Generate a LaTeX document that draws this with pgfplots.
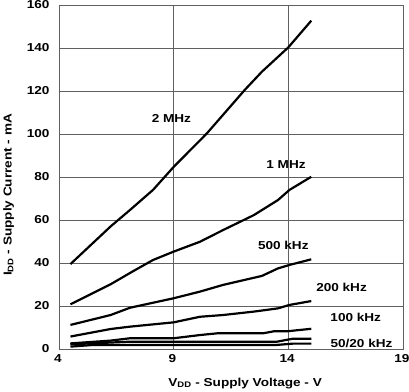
\documentclass[border=0pt]{standalone}
\usepackage{fontspec}
\setmainfont{Liberation Sans}[FakeStretch=1.18]
\usepackage{pgfplots}
\pgfplotsset{compat=1.18}
\newcommand{\ff}{\fontsize{11.5}{13}\selectfont\bfseries}
\tikzset{curve/.style={black, solid, line width=2.2pt, mark=none, line join=round}}
\begin{document}
\begin{tikzpicture}
\useasboundingbox (-59pt,-42pt) rectangle (350pt,349pt);
\begin{axis}[
  at={(0,0)}, anchor=south west,
  scale only axis, width=344pt, height=344pt,
  xmin=4, xmax=19, ymin=0, ymax=160,
  xtick={4,9,14,19}, ytick={0,20,...,160},
  grid=major,
  major grid style={gray!75!black, line width=0.6pt},
  axis line style={gray!75!black, line width=0.6pt},
  major tick length=0pt,
  /pgf/number format/assume math mode=true,
  tick label style={font=\ff},
  yticklabel style={xshift=-6pt},
  xticklabel style={yshift=-2pt, xshift=-1.2pt},
  xlabel={V\textsubscript{DD} - Supply Voltage - V},
  ylabel={I\textsubscript{DD} - Supply Current - mA},
  label style={font=\ff},
  xlabel style={at={(axis description cs:0.541,-0.1076)}, anchor=base},
  ylabel style={at={(axis description cs:-0.138,0.448)}, anchor=base, rotate=0},
]
% 2 MHz
\addplot[curve] coordinates {(4.5,39.5) (6.25,57) (7.1,64.7) (8.1,74) (9,84.7) (10.45,100.3) (12.1,120.5) (12.85,129) (14,140.3) (15,152.7)};
% 1 MHz
\addplot[curve] coordinates {(4.5,20.8) (6.25,30.1) (7.2,36) (8.1,41.4) (9,45.3) (10.15,49.9) (11.15,55.3) (12.5,62.3) (13.55,69.3) (14.05,74) (15,80.1)};
% 500 kHz
\addplot[curve] coordinates {(4.5,11.2) (6.25,15.8) (7.1,19.2) (9,23.6) (10.15,26.7) (11.15,29.8) (12.85,34) (13.55,37.5) (14.05,39.1) (15,41.7)};
% 200 kHz
\addplot[curve] coordinates {(4.5,5.8) (6.25,9.3) (7.1,10.4) (9,12.4) (10.15,15) (11.15,15.8) (12.5,17.4) (13.55,18.9) (14.05,20.5) (15,22.3)};
% 100 kHz
\addplot[curve] coordinates {(4.5,2.6) (6.25,3.9) (7.1,5) (9,5) (10.15,6.5) (10.9,7.3) (12.9,7.3) (13.4,8.3) (14,8.3) (15,9.4)};
% 50 kHz
\addplot[curve] coordinates {(4.5,2.2) (7.1,3.4) (13.5,3.4) (14.2,4.8) (15,4.8)};
% 20 kHz
\addplot[curve] coordinates {(4.5,1.1) (5.5,1.9) (13.5,1.9) (14.2,2.5) (15,2.5)};
\node[font=\ff] at (axis cs:8.9,107.4) {2 MHz};
\node[font=\ff] at (axis cs:13.9,86) {1 MHz};
\node[font=\ff] at (axis cs:13.78,48.4) {500 kHz};
\node[font=\ff] at (axis cs:16.32,28.7) {200 kHz};
\node[font=\ff] at (axis cs:16.94,14.6) {100 kHz};
\node[font=\ff] at (axis cs:17.19,2.8) {50/20 kHz};
\end{axis}
\end{tikzpicture}
\end{document}
